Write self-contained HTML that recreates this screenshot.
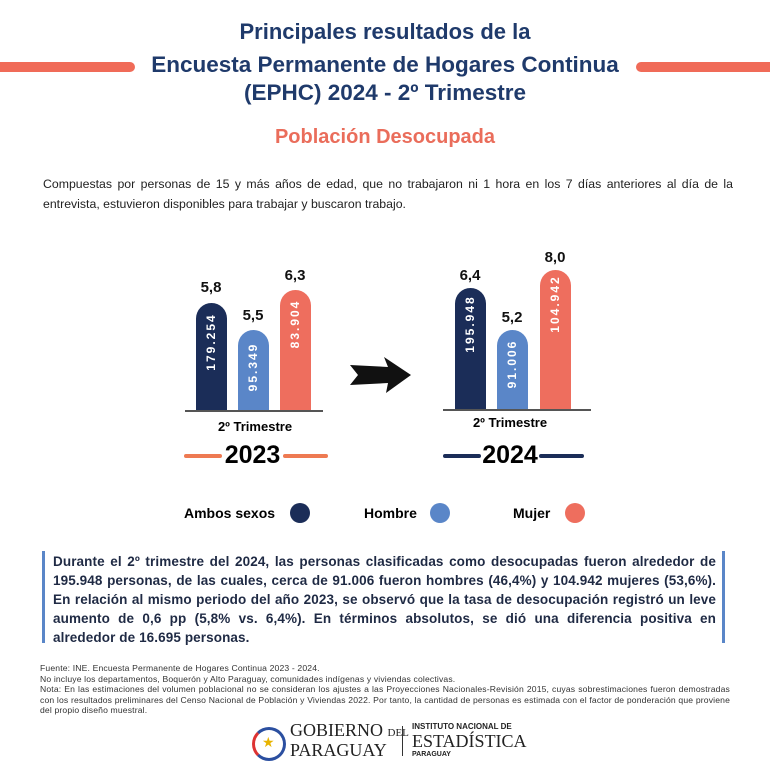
<!DOCTYPE html>
<html><head><meta charset="utf-8"><style>
body{margin:0;width:770px;height:770px;background:#fff;position:relative;font-family:"Liberation Sans",sans-serif;overflow:hidden}
.a{position:absolute}
.t{color:#1f3a6b;font-weight:bold;text-align:center;width:770px;left:0;font-size:22.5px}
.bar{position:absolute;width:31px;border-radius:16px 16px 0 0}
.val{position:absolute;font-weight:bold;font-size:15px;width:40px;text-align:center;color:#111}
.vt{position:absolute;color:#fff;font-weight:bold;font-size:12px;letter-spacing:2px;transform:rotate(-90deg);white-space:nowrap;width:100px;text-align:center}
.d{background:#1b2d58}.b{background:#5a86c8}.s{background:#ee6e5e}
</style></head><body>
<div class="a t" style="top:19px;font-size:22px">Principales resultados de la</div>
<div class="a t" style="top:52px">Encuesta Permanente de Hogares Continua</div>
<div class="a t" style="top:80px">(EPHC) 2024 - 2º Trimestre</div>
<div class="a" style="left:-10px;top:62px;width:145px;height:10px;border-radius:5px;background:#f06b58"></div>
<div class="a" style="left:636px;top:62px;width:145px;height:10px;border-radius:5px;background:#f06b58"></div>
<div class="a" style="left:0;width:770px;text-align:center;top:126px;font-size:20px;font-weight:bold;color:#ea6d5b">Población Desocupada</div>
<div class="a" style="left:43px;top:174px;width:690px;font-size:12.3px;line-height:20px;color:#222;text-align:justify">Compuestas por personas de 15 y más años de edad, que no trabajaron ni 1 hora en los 7 días anteriores al día de la entrevista, estuvieron disponibles para trabajar y buscaron trabajo.</div>

<div class="bar d" style="left:196px;top:303px;height:108px"></div>
<div class="bar b" style="left:238px;top:330px;height:81px"></div>
<div class="bar s" style="left:280px;top:290px;height:121px"></div>
<div class="a" style="left:185px;top:410px;width:138px;height:2px;background:#555"></div>
<div class="val" style="left:191px;top:279px">5,8</div>
<div class="val" style="left:233px;top:307px">5,5</div>
<div class="val" style="left:275px;top:267px">6,3</div>
<div class="vt" style="left:161px;top:335px">179.254</div>
<div class="vt" style="left:203px;top:360px">95.349</div>
<div class="vt" style="left:245px;top:317px">83.904</div>
<div class="a" style="left:185px;top:419px;width:140px;text-align:center;font-weight:bold;font-size:13px">2º Trimestre</div>
<div class="a" style="left:184px;top:454px;width:38px;height:4px;background:#ee7a52;border-radius:2px"></div>
<div class="a" style="left:283px;top:454px;width:45px;height:4px;background:#ee7a52;border-radius:2px"></div>
<div class="a" style="left:218px;top:441px;width:69px;text-align:center;font-weight:bold;font-size:25px">2023</div>

<svg class="a" style="left:348px;top:355px" width="65" height="40"><path d="M2 10 L40 12 L36 2 L63 20 L38 38 L40 28 L2 30 L10 20 Z" fill="#111"/></svg>

<div class="bar d" style="left:455px;top:288px;height:122px"></div>
<div class="bar b" style="left:497px;top:330px;height:80px"></div>
<div class="bar s" style="left:540px;top:270px;height:140px"></div>
<div class="a" style="left:443px;top:409px;width:148px;height:2px;background:#555"></div>
<div class="val" style="left:450px;top:267px">6,4</div>
<div class="val" style="left:492px;top:309px">5,2</div>
<div class="val" style="left:535px;top:249px">8,0</div>
<div class="vt" style="left:420px;top:317px">195.948</div>
<div class="vt" style="left:462px;top:357px">91.006</div>
<div class="vt" style="left:505px;top:297px">104.942</div>
<div class="a" style="left:440px;top:415px;width:140px;text-align:center;font-weight:bold;font-size:13px">2º Trimestre</div>
<div class="a" style="left:443px;top:454px;width:38px;height:4px;background:#1b2d58;border-radius:2px"></div>
<div class="a" style="left:539px;top:454px;width:45px;height:4px;background:#1b2d58;border-radius:2px"></div>
<div class="a" style="left:476px;top:441px;width:68px;text-align:center;font-weight:bold;font-size:25px">2024</div>

<div class="a" style="left:184px;top:505px;font-weight:bold;font-size:14px">Ambos sexos</div>
<div class="a d" style="left:290px;top:503px;width:20px;height:20px;border-radius:50%"></div>
<div class="a" style="left:364px;top:505px;font-weight:bold;font-size:14px">Hombre</div>
<div class="a b" style="left:430px;top:503px;width:20px;height:20px;border-radius:50%"></div>
<div class="a" style="left:513px;top:505px;font-weight:bold;font-size:14px">Mujer</div>
<div class="a s" style="left:565px;top:503px;width:20px;height:20px;border-radius:50%"></div>

<div class="a" style="left:42px;top:551px;width:3px;height:92px;background:#5a86c8"></div>
<div class="a" style="left:722px;top:551px;width:3px;height:92px;background:#5a86c8"></div>
<div class="a" style="left:53px;top:552px;width:663px;font-weight:bold;font-size:13.5px;letter-spacing:0.1px;line-height:19px;color:#1f2a44;text-align:justify">Durante el 2º trimestre del 2024, las personas clasificadas como desocupadas fueron alrededor de 195.948 personas, de las cuales, cerca de 91.006 fueron hombres (46,4%) y 104.942 mujeres (53,6%). En relación al mismo periodo del año 2023, se observó que la tasa de desocupación registró un leve aumento de 0,6 pp (5,8% vs. 6,4%). En términos absolutos, se dió una diferencia positiva en alrededor de 16.695 personas.</div>

<div class="a" style="left:40px;top:663px;width:690px;font-size:8.6px;letter-spacing:0.15px;line-height:10.5px;color:#333;text-align:justify">Fuente: INE. Encuesta Permanente de Hogares Continua 2023 - 2024.<br>No incluye los departamentos, Boquerón y Alto Paraguay, comunidades indígenas y viviendas colectivas.<br>Nota: En las estimaciones del volumen poblacional no se consideran los ajustes a las Proyecciones Nacionales-Revisión 2015, cuyas sobrestimaciones fueron demostradas con los resultados preliminares del Censo Nacional de Población y Viviendas 2022. Por tanto, la cantidad de personas es estimada con el factor de ponderación que proviene del propio diseño muestral.</div>

<div class="a" style="left:252px;top:727px;width:28px;height:28px;border-radius:50%;border:3px solid #2b4fa0;border-left-color:#d33"></div>
<div class="a" style="left:262px;top:734px;color:#e8b400;font-size:14px">★</div>
<div class="a" style="left:290px;top:722px;font-family:'Liberation Serif',serif;font-size:18px;line-height:17px;color:#222">GOBIERNO <span style="font-size:11px">DEL</span><br>PARAGUAY</div>
<div class="a" style="left:402px;top:726px;width:1px;height:30px;background:#333"></div>
<div class="a" style="left:412px;top:722px;font-size:8px;font-weight:bold;color:#222">INSTITUTO NACIONAL DE</div>
<div class="a" style="left:412px;top:731px;font-family:'Liberation Serif',serif;font-size:18px;color:#222">ESTADÍSTICA</div>
<div class="a" style="left:412px;top:751px;font-size:7px;font-weight:bold;color:#222">PARAGUAY</div>
</body></html>
